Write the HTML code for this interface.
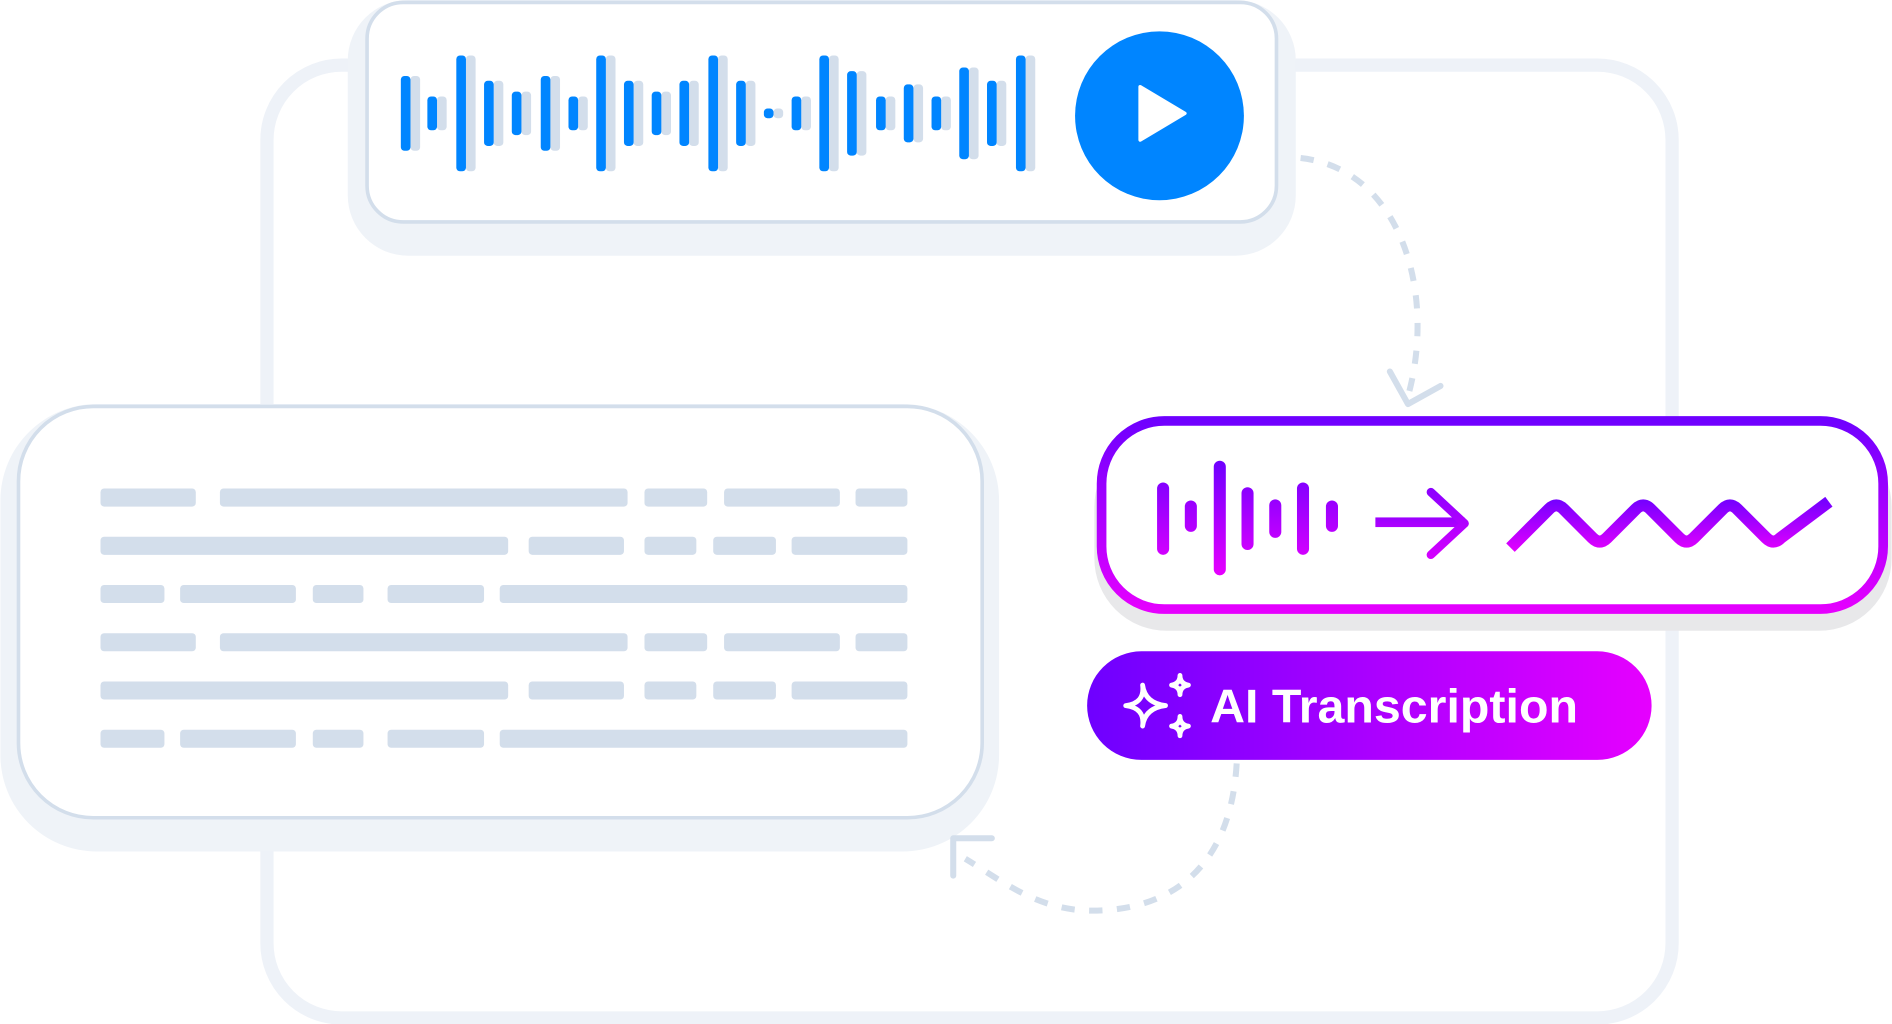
<!DOCTYPE html>
<html><head><meta charset="utf-8"><style>
html,body{margin:0;padding:0;background:#fff;}
svg{display:block;}
</style></head><body>
<svg width="1892" height="1024" viewBox="0 0 1568 849" xmlns="http://www.w3.org/2000/svg">
<defs>
<linearGradient id="gvb" gradientUnits="userSpaceOnUse" x1="0" y1="347" x2="0" y2="507"><stop offset="0" stop-color="#6e00ff"/><stop offset="1" stop-color="#e600ff"/></linearGradient>
<linearGradient id="gw" gradientUnits="userSpaceOnUse" x1="0" y1="383" x2="0" y2="476"><stop offset="0" stop-color="#6e00ff"/><stop offset="1" stop-color="#e600ff"/></linearGradient>
<linearGradient id="gz" gradientUnits="userSpaceOnUse" x1="0" y1="412" x2="0" y2="458"><stop offset="0" stop-color="#6e00ff"/><stop offset="1" stop-color="#e600ff"/></linearGradient>
<linearGradient id="gh" x1="0" y1="0" x2="1" y2="0"><stop offset="0" stop-color="#6e00ff"/><stop offset="1" stop-color="#e600ff"/></linearGradient>
</defs>
<rect x="221" y="54" width="1165" height="790" rx="62" fill="#fff" stroke="#eef2f8" stroke-width="11"/>
<rect x="288" y="0" width="786" height="212" rx="50" fill="#eff3f8"/>
<rect x="304" y="2" width="754" height="182" rx="30" fill="#fff" stroke="#d3deeb" stroke-width="3"/>
<g fill="#d3deeb">
<rect x="340" y="63" width="8" height="62" rx="3"/>
<rect x="362" y="80" width="8" height="28" rx="3"/>
<rect x="386" y="46" width="8" height="96" rx="3"/>
<rect x="409" y="67" width="8" height="54" rx="3"/>
<rect x="432" y="76" width="8" height="36" rx="3"/>
<rect x="456" y="63" width="8" height="62" rx="3"/>
<rect x="479" y="80" width="8" height="28" rx="3"/>
<rect x="502" y="46" width="8" height="96" rx="3"/>
<rect x="525" y="67" width="8" height="54" rx="3"/>
<rect x="548" y="76" width="8" height="36" rx="3"/>
<rect x="571" y="67" width="8" height="54" rx="3"/>
<rect x="595" y="46" width="8" height="96" rx="3"/>
<rect x="618" y="67" width="8" height="54" rx="3"/>
<rect x="641" y="90" width="8" height="8" rx="3"/>
<rect x="664" y="80" width="8" height="28" rx="3"/>
<rect x="687" y="46" width="8" height="96" rx="3"/>
<rect x="710" y="59" width="8" height="70" rx="3"/>
<rect x="734" y="80" width="8" height="28" rx="3"/>
<rect x="757" y="70" width="8" height="48" rx="3"/>
<rect x="780" y="80" width="8" height="28" rx="3"/>
<rect x="803" y="56" width="8" height="76" rx="3"/>
<rect x="826" y="67" width="8" height="54" rx="3"/>
<rect x="850" y="46" width="8" height="96" rx="3"/>
</g>
<g fill="#0085ff">
<rect x="332" y="63" width="8" height="62" rx="3"/>
<rect x="354" y="80" width="8" height="28" rx="3"/>
<rect x="378" y="46" width="8" height="96" rx="3"/>
<rect x="401" y="67" width="8" height="54" rx="3"/>
<rect x="424" y="76" width="8" height="36" rx="3"/>
<rect x="448" y="63" width="8" height="62" rx="3"/>
<rect x="471" y="80" width="8" height="28" rx="3"/>
<rect x="494" y="46" width="8" height="96" rx="3"/>
<rect x="517" y="67" width="8" height="54" rx="3"/>
<rect x="540" y="76" width="8" height="36" rx="3"/>
<rect x="563" y="67" width="8" height="54" rx="3"/>
<rect x="587" y="46" width="8" height="96" rx="3"/>
<rect x="610" y="67" width="8" height="54" rx="3"/>
<rect x="633" y="90" width="8" height="8" rx="3"/>
<rect x="656" y="80" width="8" height="28" rx="3"/>
<rect x="679" y="46" width="8" height="96" rx="3"/>
<rect x="702" y="59" width="8" height="70" rx="3"/>
<rect x="726" y="80" width="8" height="28" rx="3"/>
<rect x="749" y="70" width="8" height="48" rx="3"/>
<rect x="772" y="80" width="8" height="28" rx="3"/>
<rect x="795" y="56" width="8" height="76" rx="3"/>
<rect x="818" y="67" width="8" height="54" rx="3"/>
<rect x="842" y="46" width="8" height="96" rx="3"/>
</g>
<circle cx="961" cy="96" r="70" fill="#0085ff"/>
<path d="M945 72 L982 94 L945 116 Z" fill="#fff" stroke="#fff" stroke-width="3" stroke-linejoin="round"/>
<path d="M1078 131 C1160 140 1190 240 1168 325" fill="none" stroke="#d3deeb" stroke-width="5" stroke-dasharray="11 12"/>
<path d="M1152 308 L1167 335 L1194 320" fill="none" stroke="#d3deeb" stroke-width="5" stroke-linecap="round" stroke-linejoin="round"/>
<rect x="0" y="335" width="828" height="371" rx="80" fill="#eff3f8"/>
<rect x="15" y="337" width="799" height="341" rx="62" fill="#fff" stroke="#d3deeb" stroke-width="3"/>
<g fill="#d3deeb">
<rect x="83" y="405" width="79" height="15" rx="3"/><rect x="182" y="405" width="338" height="15" rx="3"/><rect x="534" y="405" width="52" height="15" rx="3"/><rect x="600" y="405" width="96" height="15" rx="3"/><rect x="709" y="405" width="43" height="15" rx="3"/>
<rect x="83" y="445" width="338" height="15" rx="3"/><rect x="438" y="445" width="79" height="15" rx="3"/><rect x="534" y="445" width="43" height="15" rx="3"/><rect x="591" y="445" width="52" height="15" rx="3"/><rect x="656" y="445" width="96" height="15" rx="3"/>
<rect x="83" y="485" width="53" height="15" rx="3"/><rect x="149" y="485" width="96" height="15" rx="3"/><rect x="259" y="485" width="42" height="15" rx="3"/><rect x="321" y="485" width="80" height="15" rx="3"/><rect x="414" y="485" width="338" height="15" rx="3"/>
<rect x="83" y="525" width="79" height="15" rx="3"/><rect x="182" y="525" width="338" height="15" rx="3"/><rect x="534" y="525" width="52" height="15" rx="3"/><rect x="600" y="525" width="96" height="15" rx="3"/><rect x="709" y="525" width="43" height="15" rx="3"/>
<rect x="83" y="565" width="338" height="15" rx="3"/><rect x="438" y="565" width="79" height="15" rx="3"/><rect x="534" y="565" width="43" height="15" rx="3"/><rect x="591" y="565" width="52" height="15" rx="3"/><rect x="656" y="565" width="96" height="15" rx="3"/>
<rect x="83" y="605" width="53" height="15" rx="3"/><rect x="149" y="605" width="96" height="15" rx="3"/><rect x="259" y="605" width="42" height="15" rx="3"/><rect x="321" y="605" width="80" height="15" rx="3"/><rect x="414" y="605" width="338" height="15" rx="3"/>
</g>
<rect x="907" y="360" width="661" height="163" rx="60" fill="#e8e8ea"/>
<rect x="913" y="349" width="648" height="156" rx="52" fill="#fff" stroke="url(#gvb)" stroke-width="8"/>
<g stroke="url(#gw)" stroke-width="10" stroke-linecap="round" fill="none">
<line x1="964" y1="405" x2="964" y2="455"/>
<line x1="987" y1="420" x2="987" y2="436"/>
<line x1="1011" y1="387" x2="1011" y2="472"/>
<line x1="1034" y1="409" x2="1034" y2="451"/>
<line x1="1057" y1="419" x2="1057" y2="441"/>
<line x1="1080" y1="405" x2="1080" y2="455"/>
<line x1="1104" y1="420" x2="1104" y2="436"/>
</g>
<rect x="1140" y="429" width="74" height="8" fill="url(#gz)"/>
<path d="M1186 408 L1214 434 L1186 460" fill="none" stroke="url(#gw)" stroke-width="7" stroke-linecap="round" stroke-linejoin="round"/>
<path d="M1252 454 L1284 422 Q1290 416 1296 422 L1320 446 Q1326 452 1332 446 L1356 422 Q1362 416 1368 422 L1392 446 Q1398 452 1404 446 L1428 422 Q1434 416 1440 422 L1464 446 Q1470 452 1476 446 L1516 416" fill="none" stroke="url(#gz)" stroke-width="10"/>
<rect x="901" y="540" width="468" height="90" rx="45" fill="url(#gh)"/>
<g fill="none" stroke="#fff" stroke-width="4" stroke-linejoin="round" stroke-linecap="round">
<path d="M947 568 Q949 583 933 585 Q949 587 947 602 Q949 587 966 585 Q949 583 947 568 Z"/>
<path d="M978 560 Q978 567 971 568 Q978 569 978 576 Q978 569 985 568 Q978 567 978 560 Z"/>
<path d="M978 594 Q978 601 971 602 Q978 603 978 610 Q978 603 985 602 Q978 601 978 594 Z"/>
</g>
<text x="1003" y="599" font-family="Liberation Sans, sans-serif" font-weight="bold" font-size="39" fill="#fff" textLength="305" lengthAdjust="spacingAndGlyphs">AI Transcription</text>
<path d="M1025 633 C1020 720 970 755 905 755 C860 755 830 730 800 712" fill="none" stroke="#d3deeb" stroke-width="5" stroke-dasharray="11 12"/>
<path d="M790 726 L790 695 L822 695" fill="none" stroke="#d3deeb" stroke-width="5" stroke-linecap="round" stroke-linejoin="round"/>
</svg>
</body></html>
